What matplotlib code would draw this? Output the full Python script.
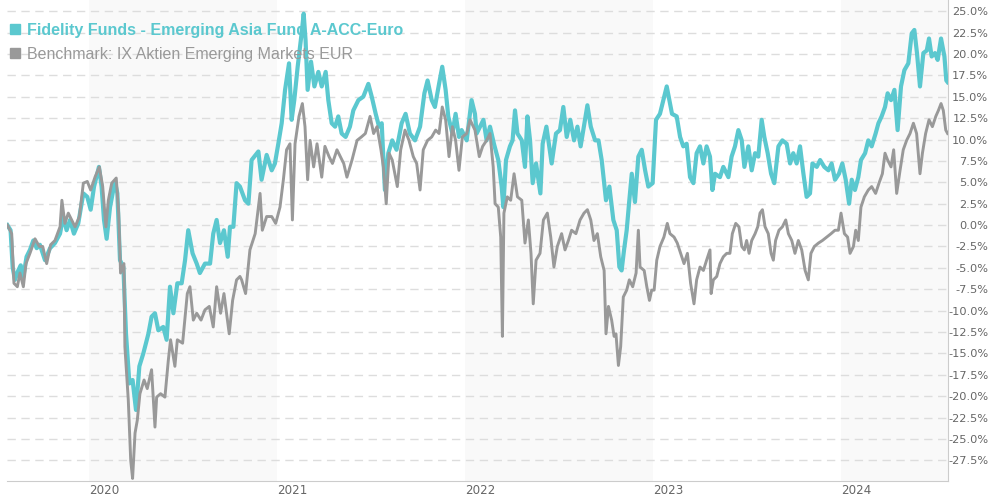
import matplotlib
matplotlib.use('Agg')
import matplotlib.pyplot as plt
from matplotlib.lines import Line2D
from matplotlib.ticker import FuncFormatter

plt.rcParams['axes.unicode_minus'] = False

# performance in % over 5 years, time as decimal year
fund_name = 'Fidelity Funds - Emerging Asia Fund A-ACC-Euro'
bench_name = 'Benchmark: IX Aktien Emerging Markets EUR'

fund_t = [2019.566, 2019.583, 2019.594, 2019.606, 2019.624, 2019.637, 2019.651, 2019.668, 2019.686, 2019.704,
          2019.722, 2019.739, 2019.766, 2019.793, 2019.819, 2019.846, 2019.863, 2019.881, 2019.899, 2019.920,
          2019.943, 2019.970, 2019.991, 2020.009, 2020.027, 2020.053, 2020.067, 2020.080, 2020.094, 2020.112,
          2020.138, 2020.151, 2020.165, 2020.183, 2020.197, 2020.215, 2020.232, 2020.250, 2020.268, 2020.289,
          2020.316, 2020.333, 2020.351, 2020.369, 2020.395, 2020.413, 2020.431, 2020.449, 2020.470, 2020.493,
          2020.511, 2020.528, 2020.551, 2020.573, 2020.590, 2020.617, 2020.644, 2020.661, 2020.679, 2020.697,
          2020.718, 2020.738, 2020.750, 2020.768, 2020.785,
          2020.803, 2020.830, 2020.848, 2020.865, 2020.901, 2020.918, 2020.945, 2020.972, 2020.989, 2021.007,
          2021.025, 2021.043, 2021.064, 2021.078, 2021.092, 2021.110, 2021.131, 2021.142, 2021.152, 2021.163,
          2021.181, 2021.199, 2021.220, 2021.238, 2021.259, 2021.273, 2021.291, 2021.309, 2021.326, 2021.344,
          2021.365, 2021.388, 2021.406, 2021.433, 2021.459, 2021.486, 2021.504, 2021.525, 2021.543, 2021.557,
          2021.574, 2021.592, 2021.613, 2021.636, 2021.663, 2021.684, 2021.707, 2021.734, 2021.761, 2021.784,
          2021.801, 2021.823, 2021.840, 2021.862, 2021.879, 2021.897, 2021.911, 2021.933, 2021.950, 2021.968,
          2021.982, 2022.009, 2022.035, 2022.053,
          2022.062, 2022.080, 2022.098, 2022.115, 2022.133, 2022.154, 2022.177, 2022.195, 2022.204, 2022.218,
          2022.239, 2022.253, 2022.266, 2022.279, 2022.302, 2022.319, 2022.332, 2022.346, 2022.360, 2022.378,
          2022.401, 2022.413, 2022.433, 2022.461, 2022.484, 2022.505, 2022.523, 2022.541, 2022.560, 2022.580,
          2022.598, 2022.615, 2022.635, 2022.651, 2022.669, 2022.692, 2022.710, 2022.727, 2022.750, 2022.768,
          2022.789, 2022.807, 2022.821, 2022.833, 2022.846, 2022.860, 2022.874, 2022.887, 2022.904, 2022.922,
          2022.940, 2022.958, 2022.975, 2022.998, 2023.016, 2023.037, 2023.055, 2023.073, 2023.087, 2023.101,
          2023.126, 2023.144, 2023.161, 2023.179, 2023.197, 2023.215, 2023.232, 2023.250, 2023.268, 2023.285,
          2023.303,
          2023.316, 2023.330, 2023.356, 2023.374, 2023.401, 2023.418, 2023.436, 2023.454, 2023.472, 2023.486,
          2023.507, 2023.525, 2023.543, 2023.560, 2023.578, 2023.592, 2023.610, 2023.628, 2023.645, 2023.667,
          2023.688, 2023.711, 2023.729, 2023.746, 2023.764, 2023.782, 2023.800, 2023.817, 2023.835, 2023.848,
          2023.871, 2023.889, 2023.911, 2023.933, 2023.950, 2023.968, 2023.989, 2024.007, 2024.025, 2024.043,
          2024.057, 2024.074, 2024.092, 2024.106, 2024.128, 2024.145, 2024.163, 2024.184, 2024.199, 2024.216,
          2024.234, 2024.248, 2024.266, 2024.284, 2024.301, 2024.319, 2024.337, 2024.358, 2024.376, 2024.390,
          2024.404, 2024.420, 2024.438, 2024.456, 2024.468, 2024.482, 2024.500, 2024.514, 2024.532, 2024.550,
          2024.560, 2024.567]
fund_v = [0.0, -0.6, -4.9, -6.4, -5.3, -4.7, -6.0, -3.7, -2.9, -1.8,
          -2.7, -2.3, -4.1, -2.7, -2.1, -1.0, 1.0, -0.6, 0.6, -1.0,
          0.2, 3.7, 3.3, 1.8, 4.5, 6.8, 4.5, 0.6, -1.6, 2.1,
          5.1, 3.7, -4.1, -4.9, -12.7, -18.5, -18.1, -21.6, -16.5, -15.0,
          -12.7, -10.7, -10.3, -12.3, -11.9, -13.4, -7.2, -10.3, -6.8, -6.8,
          -4.1, -0.6, -3.3, -4.5, -5.6, -4.5, -4.5, -1.0, 0.6, -2.1,
          -0.6, -3.7, -0.2, -0.2, 4.9,
          4.5, 2.9, 2.5, 7.6, 8.6, 5.3, 8.2, 6.4, 7.2, 9.5,
          11.9, 15.8, 18.9, 12.3, 14.6, 18.5, 22.4, 24.7, 21.6, 15.8,
          19.1, 16.2, 17.9, 16.2, 17.9, 14.6, 11.9, 11.5, 12.7, 10.7,
          10.3, 11.5, 13.4, 14.6, 15.0, 16.5, 15.0, 13.0, 11.5, 11.9,
          4.1, 8.4, 9.9, 8.8, 11.9, 13.0, 10.7, 9.9, 11.5, 15.4,
          16.9, 14.6, 13.8, 16.5, 18.5, 15.8, 12.7, 10.7, 13.0, 10.3,
          11.1, 9.9, 14.6, 13.0,
          10.7, 11.5, 12.3, 9.9, 11.5, 9.5, 7.6, 4.5, 2.1, 7.6,
          9.2, 9.9, 13.4, 10.7, 9.9, 6.8, 12.7, 9.9, 4.9, 7.2,
          3.7, 9.5, 11.5, 7.2, 10.7, 11.1, 13.8, 10.3, 12.3, 9.9,
          11.5, 9.2, 11.9, 14.0, 11.5, 9.9, 9.9, 7.6, 2.9, 4.5,
          0.6, -0.6, -4.9, -5.3, -2.9, -0.6, 2.9, 6.0, 2.7, 8.0,
          8.8, 6.4, 4.5, 4.9, 12.3, 13.0, 14.6, 16.2, 14.6, 13.0,
          12.7, 10.3, 9.2, 9.5, 5.6, 4.9, 8.4, 9.2, 7.2, 9.2,
          8.0,
          4.1, 6.0, 5.6, 6.8, 5.6, 8.0, 9.2, 11.1, 9.9, 6.8,
          9.2, 6.4, 8.4, 8.0, 12.3, 10.3, 8.4, 6.0, 4.9, 9.2,
          9.9, 9.5, 7.2, 8.4, 7.2, 9.2, 6.0, 3.3, 3.7, 7.2,
          6.8, 7.6, 6.8, 6.4, 7.2, 5.3, 6.0, 7.2, 5.3, 2.5,
          5.3, 4.1, 5.6, 7.6, 8.4, 9.9, 9.2, 10.7, 11.9, 12.7,
          13.8, 15.4, 14.6, 15.8, 11.1, 16.2, 18.1, 18.9, 22.4, 22.8,
          20.1, 16.2, 20.1, 20.4, 21.8, 19.7, 20.1, 19.3, 21.8, 19.7,
          16.9, 16.7]

bench_t = [2019.566, 2019.589, 2019.601, 2019.619, 2019.633, 2019.651, 2019.665, 2019.686, 2019.713, 2019.736,
           2019.754, 2019.775, 2019.796, 2019.819, 2019.846, 2019.856, 2019.872, 2019.890, 2019.908, 2019.926,
           2019.949, 2019.970, 2019.991, 2020.009, 2020.032, 2020.055, 2020.073, 2020.090, 2020.103, 2020.121,
           2020.145, 2020.158, 2020.168, 2020.186, 2020.191, 2020.209, 2020.222, 2020.232, 2020.245, 2020.257,
           2020.271, 2020.293, 2020.310, 2020.333, 2020.351, 2020.360, 2020.381, 2020.404, 2020.422, 2020.434,
           2020.457, 2020.470, 2020.498, 2020.523, 2020.537, 2020.555, 2020.573, 2020.596, 2020.617, 2020.640,
           2020.661, 2020.679, 2020.700, 2020.718, 2020.746, 2020.764, 2020.785, 2020.803,
           2020.812, 2020.833, 2020.856, 2020.884, 2020.910, 2020.922, 2020.945, 2020.972, 2020.993, 2021.016,
           2021.034, 2021.051, 2021.069, 2021.082, 2021.096, 2021.117, 2021.135, 2021.149, 2021.163, 2021.176,
           2021.195, 2021.213, 2021.238, 2021.255, 2021.277, 2021.295, 2021.319, 2021.337, 2021.355, 2021.372,
           2021.399, 2021.426, 2021.449, 2021.470, 2021.495, 2021.514, 2021.532, 2021.553, 2021.566, 2021.581,
           2021.596, 2021.613, 2021.640, 2021.658, 2021.681, 2021.702, 2021.725, 2021.743, 2021.761, 2021.778,
           2021.801, 2021.823, 2021.844, 2021.862, 2021.879, 2021.897, 2021.915, 2021.933, 2021.950, 2021.968,
           2021.986, 2022.009, 2022.027, 2022.053,
           2022.062, 2022.076, 2022.094, 2022.115, 2022.133, 2022.150, 2022.160, 2022.177, 2022.190, 2022.199,
           2022.207, 2022.225, 2022.243, 2022.261, 2022.279, 2022.302, 2022.319, 2022.337, 2022.351, 2022.363,
           2022.378, 2022.399, 2022.417, 2022.438, 2022.456, 2022.473, 2022.491, 2022.514, 2022.532, 2022.550,
           2022.567, 2022.590, 2022.612, 2022.633, 2022.651, 2022.669, 2022.686, 2022.704, 2022.722, 2022.740,
           2022.750, 2022.763, 2022.780, 2022.793, 2022.803, 2022.816, 2022.828, 2022.842, 2022.860, 2022.874,
           2022.892, 2022.910, 2022.922, 2022.931, 2022.953, 2022.967, 2022.981, 2022.993, 2023.006, 2023.020,
           2023.037, 2023.058, 2023.076, 2023.090, 2023.112, 2023.129, 2023.147, 2023.165, 2023.183, 2023.200,
           2023.218, 2023.232, 2023.250, 2023.268, 2023.285, 2023.303,
           2023.309, 2023.321, 2023.339, 2023.356, 2023.374, 2023.392, 2023.409, 2023.422, 2023.440, 2023.457,
           2023.472, 2023.486, 2023.498, 2023.511, 2023.525, 2023.543, 2023.557, 2023.569, 2023.582, 2023.596,
           2023.613, 2023.628, 2023.640, 2023.652, 2023.670, 2023.688, 2023.706, 2023.720, 2023.738, 2023.755,
           2023.773, 2023.791, 2023.809, 2023.826, 2023.840, 2023.858, 2023.880, 2023.901, 2023.924, 2023.947,
           2023.968, 2023.986, 2024.000, 2024.018, 2024.035, 2024.048, 2024.066, 2024.078, 2024.092, 2024.106,
           2024.124, 2024.145, 2024.163, 2024.184, 2024.202, 2024.220, 2024.234, 2024.248, 2024.266, 2024.280,
           2024.296, 2024.314, 2024.331, 2024.349, 2024.367, 2024.385, 2024.402, 2024.420, 2024.433, 2024.450,
           2024.468, 2024.486, 2024.504, 2024.518, 2024.532, 2024.544, 2024.557, 2024.567]
bench_v = [0.0, -1.0, -6.8, -7.2, -5.6, -7.2, -4.5, -3.3, -1.6, -2.5,
           -2.5, -4.5, -2.3, -1.8, -0.2, 2.9, 0.2, 1.4, 0.6, -0.2,
           1.0, 4.9, 5.1, 4.1, 5.6, 6.8, 4.5, -0.2, 2.9, 4.9,
           5.5, 1.4, -5.6, -4.5, -14.2, -20.4, -27.5, -29.6, -24.3, -22.8,
           -19.7, -18.1, -19.1, -16.9, -23.6, -20.1, -19.7, -20.1, -15.8, -13.4,
           -16.5, -13.4, -13.8, -8.0, -7.2, -11.1, -10.3, -11.1, -9.9, -9.5,
           -11.9, -7.2, -10.3, -8.0, -12.7, -8.8, -6.4, -6.0,
           -6.4, -8.0, -2.9, -1.0, 3.7, -0.6, 1.0, 1.0, 0.2, 2.1,
           5.3, 8.8, 9.5, 0.6, 9.5, 12.7, 14.2, 11.5, 5.3, 9.9,
           6.8, 9.5, 5.6, 9.2, 8.0, 7.2, 8.8, 8.0, 7.2, 5.6,
           7.6, 9.9, 10.3, 10.7, 12.7, 10.7, 11.5, 8.8, 6.8, 2.5,
           8.4, 7.6, 4.5, 8.8, 11.1, 9.9, 8.0, 7.2, 4.1, 8.8,
           9.9, 10.3, 11.1, 10.7, 13.8, 12.3, 8.0, 11.5, 9.9, 6.4,
           10.3, 10.7, 12.3, 11.1,
           9.9, 8.0, 9.2, 9.9, 10.7, 6.8, 2.5, 2.1, -1.4, -13.0,
           1.4, 3.3, 2.9, 6.0, 3.3, 2.9, -2.1, 0.6, -3.3, -9.2,
           -4.1, -3.3, 0.6, 1.4, -1.4, -4.9, -2.5, -1.0, -2.9, -1.8,
           -0.6, -1.0, 0.6, 1.4, 1.8, 0.6, -1.8, -1.0, -3.7, -5.3,
           -12.7, -9.5, -11.1, -13.0, -12.7, -16.4, -14.2, -8.4, -7.6, -6.4,
           -7.2, -5.6, -0.6, -4.9, -5.3, -7.2, -8.8, -7.6, -7.6, -4.1,
           -2.5, -1.4, 0.2, -1.0, -1.4, -2.1, -3.3, -4.5, -3.3, -6.8,
           -9.2, -6.4, -4.9, -5.3, -4.1, -2.9,
           -8.0, -6.4, -6.0, -4.5, -3.7, -3.3, -3.3, -1.0, 0.2, -0.2,
           -2.5, -2.9, -1.8, -3.3, -1.8, -1.0, -0.2, 1.4, 1.8, -0.2,
           -1.0, -3.3, -4.1, -1.8, -0.6, -0.2, 0.6, -1.0, -1.8, -3.3,
           -1.8, -2.9, -5.3, -6.4, -3.3, -2.5, -2.1, -1.8, -1.4, -1.0,
           -0.6, -0.6, 1.4, -1.0, -1.4, -3.3, -2.5, -0.6, -1.8, 2.1,
           3.3, 4.1, 4.5, 3.7, 4.9, 6.0, 8.4, 7.6, 6.8, 8.8,
           3.7, 6.4, 8.8, 9.9, 10.7, 11.9, 10.7, 6.0, 8.4, 10.7,
           12.3, 11.5, 12.7, 13.4, 14.2, 13.4, 11.1, 10.7]

years = [2020, 2021, 2022, 2023, 2024]
shaded_years = [2020, 2022, 2024]
y_ticks = [-27.5, -25, -22.5, -20, -17.5, -15, -12.5, -10, -7.5, -5, -2.5,
           0, 2.5, 5, 7.5, 10, 12.5, 15, 17.5, 20, 22.5, 25]

fund_color = '#5bc8cf'
bench_color = '#999999'

fig = plt.figure(figsize=(9.9, 5.0), dpi=100)
ax = fig.add_axes([7 / 990, 19 / 500, 941 / 990, 481 / 500])

x_min, x_max = 2019.564, 2024.569
ax.set_xlim(x_min, x_max)
ax.set_ylim(-29.9, 26.3)

# alternating year bands
for yr in shaded_years:
    ax.axvspan(yr, min(yr + 1, x_max), color='#f9f9f9', zorder=0, lw=0)

for v in y_ticks:
    ax.axhline(v, color='#dddddd', lw=1, dashes=(6, 4), zorder=1)

ax.plot(fund_t, fund_v, color=fund_color, lw=3.0, zorder=3)
ax.plot(bench_t, bench_v, color=bench_color, lw=2.1, zorder=4)

for side in ['top', 'left']:
    ax.spines[side].set_visible(False)
ax.spines['right'].set_color('#cccccc')
ax.spines['bottom'].set_color('#cccccc')

# right hand % axis, labels right aligned near the figure edge
ax.yaxis.tick_right()
ax.set_yticks(y_ticks)
ax.yaxis.set_major_formatter(FuncFormatter(lambda v, p: '{:.1f}%'.format(v)))
ax.tick_params(axis='y', length=0, pad=29, labelsize=8.2, labelcolor='#666666')
for lbl in ax.get_yticklabels():
    lbl.set_horizontalalignment('right')

ax.set_xticks(years)
ax.set_xticklabels([str(y) for y in years])
ax.tick_params(axis='x', length=0, pad=2, labelsize=8.6, labelcolor='#666666')
for lbl in ax.get_xticklabels():
    lbl.set_horizontalalignment('left')

handles = [Line2D([], [], marker='s', ls='none', color=fund_color, markersize=7.5),
           Line2D([], [], marker='s', ls='none', color=bench_color, markersize=7.5)]
leg = ax.legend(handles, [fund_name, bench_name], loc='upper left', bbox_to_anchor=(-8 / 941, 0.972),
                frameon=False, handlelength=0.8, handletextpad=0.35, labelspacing=0.54,
                borderaxespad=0.2, prop={'family': 'Liberation Sans', 'size': 11.5})
leg.get_texts()[0].set_color(fund_color)
leg.get_texts()[0].set_fontweight('bold')
leg.get_texts()[1].set_color(bench_color)
leg.set_zorder(5)

fig.savefig('out.png', dpi=100)
